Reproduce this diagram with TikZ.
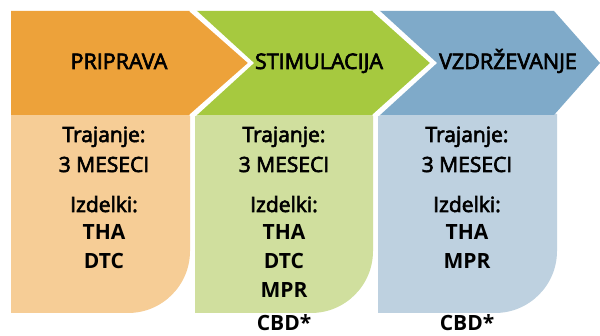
\documentclass[tikz,border=0pt]{standalone}
\usepackage{fontspec}
\setmainfont{Open Sans}
\newfontfamily\medfont{Open Sans}[FakeBold=3]
\definecolor{orA}{HTML}{EDA23A}
\definecolor{orB}{HTML}{F6CD96}
\definecolor{grA}{HTML}{A6C93F}
\definecolor{grB}{HTML}{D0DF9E}
\definecolor{blA}{HTML}{7FAAC9}
\definecolor{blB}{HTML}{BED1E0}
\tikzset{
  chev/.style={draw=white,line width=2.6pt,line join=miter},
  head/.style={anchor=base,font=\medfont\fontsize{21.5}{24}\selectfont,inner sep=0pt},
  txt/.style={anchor=base,font=\medfont\fontsize{21}{24}\selectfont,inner sep=0pt},
  btxt/.style={anchor=base,font=\fontsize{21}{24}\selectfont\bfseries,inner sep=0pt}
}
\begin{document}
\begin{tikzpicture}[x=1pt,y=-1pt]
\useasboundingbox (0,0) rectangle (600,336);
\fill[white] (0,0) rectangle (600,336);
% lower boxes
\fill[orB] (11,114) -- (190,114) [rounded corners=62pt] -- (190,313) [sharp corners] -- (11,313) -- cycle;
\fill[grB] (195,114) -- (373,114) [rounded corners=62pt] -- (373,313) [sharp corners] -- (195,313) -- cycle;
\fill[blB] (378,114) -- (557,114) [rounded corners=62pt] -- (557,313) [sharp corners] -- (378,313) -- cycle;
% chevrons
\begin{scope}
\clip (11,11) rectangle (600,116);
\fill[blA] (378,11) -- (554,11) -- (600,63) -- (554,115) -- (378,115) -- (435,63) -- cycle;
\draw[chev] (378,5) -- (378,11) -- (435,63) -- (378,115) -- (378,120);
\fill[grA] (195,11) -- (374,11) -- (432,63) -- (374,115) -- (195,115) -- (252,63) -- cycle;
\draw[chev] (374,5) -- (374,11) -- (432,63) -- (374,115) -- (374,120);
\draw[chev] (195,5) -- (195,11) -- (252,63) -- (195,115) -- (195,120);
\fill[orA] (11,11) -- (191,11) -- (250,63) -- (191,115) -- (11,115) -- cycle;
\draw[chev] (191,5) -- (191,11) -- (250,63) -- (191,115) -- (191,120);
\end{scope}
% headers
\node[head] (h1) at (119,69) {PRIPRAVA};
\node[head] (h2) at (319,69) {STIMULACIJA};
\node[head] (h3) at (508,69) {VZDRŽEVANJE};
% column 1
\node[txt] (a1) at (104,142) {Trajanje:};
\node[txt] (a2) at (104,172) {3 MESECI};
\node[txt] (a3) at (104,212) {Izdelki:};
\node[btxt] (a4) at (104,240) {THA};
\node[btxt] (a5) at (104,269) {DTC};
% column 2
\node[txt] (b1) at (284,142) {Trajanje:};
\node[txt] (b2) at (284,172) {3 MESECI};
\node[txt] (b3) at (284,212) {Izdelki:};
\node[btxt] (b4) at (284,240) {THA};
\node[btxt] (b5) at (284,269) {DTC};
\node[btxt] (b6) at (284,298) {MPR};
\node[btxt] (b7) at (284,331) {CBD*};
% column 3
\node[txt] (c1) at (467,142) {Trajanje:};
\node[txt] (c2) at (467,172) {3 MESECI};
\node[txt] (c3) at (467,212) {Izdelki:};
\node[btxt] (c4) at (467,240) {THA};
\node[btxt] (c5) at (467,269) {MPR};
\node[btxt] (c6) at (467,331) {CBD*};
\end{tikzpicture}
\end{document}
